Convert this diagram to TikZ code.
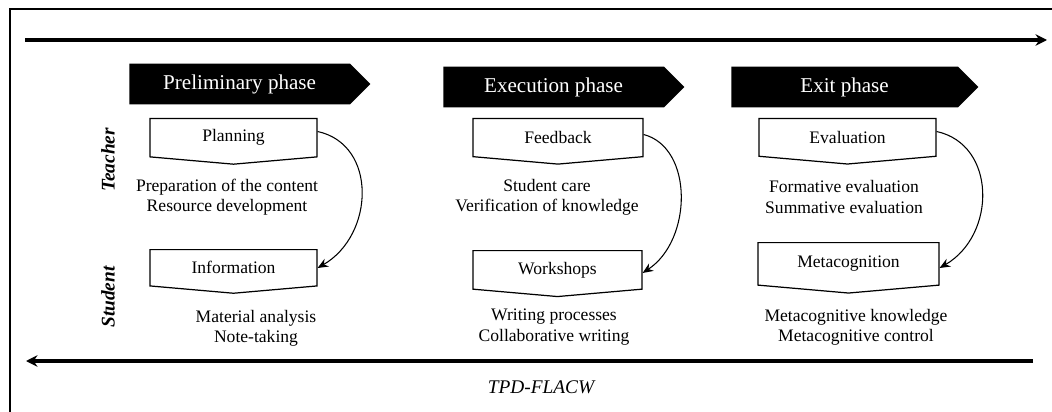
\documentclass[tikz,border=0pt]{standalone}
\usepackage{fontspec}
\setmainfont{Liberation Serif}
\usetikzlibrary{shapes.symbols,arrows.meta,positioning}

\tikzset{
  phase/.style={signal, signal to=east, fill=black, text=white, minimum width=4.82cm, minimum height=0.82cm, inner sep=0pt, anchor=west, font=\fontsize{12}{14}\selectfont},
  actbox/.style={signal, signal to=south, signal pointer angle=170, draw, line width=0.7pt, fill=white, minimum height=0.82cm, inner sep=0pt, anchor=north, font=\fontsize{10}{12}\selectfont},
  notes/.style={align=center, inner sep=0pt, font=\fontsize{10}{11.5}\selectfont},
  role/.style={rotate=90, font=\fontsize{11}{13}\selectfont\bfseries\itshape},
  timeline/.style={line width=2.2pt, -{Stealth[length=6.5pt,width=6.5pt]}},
  turnarrow/.style={line width=0.6pt, -{Stealth[length=6pt,width=5pt]}}
}

\begin{document}
\begin{tikzpicture}[x=0.02cm, y=0.02cm]
    \useasboundingbox (0,0) rectangle (1052,-412);
    \clip (0,0) rectangle (1052,-412);
    \draw[line width=0.7pt] (10,-9) rectangle (1070,-430);

    % time lines
    \coordinate (tl) at (25,-40);
    \coordinate (tr) at (1047,-40);
    \coordinate (bl) at (26,-361);
    \coordinate (br) at (1033,-361);
    \draw[timeline] (tl) -- (tr);
    \draw[timeline] (br) -- (bl);

    % phases
    \node [phase] (prelim) at (129,-84) {Preliminary phase};
    \node [phase] (exec) at (443,-87) {Execution phase};
    \node [phase, minimum width=4.94cm] (exit) at (731,-87) {Exit phase};

    % roles
    \node [role] (teacher) at (108,-160) {Teacher};
    \node [role] (student) at (108,-297) {Student};

    % teacher boxes
    \node [actbox, minimum width=3.34cm] (plan) at (233.5,-118) {Planning};
    \node [actbox, minimum width=3.40cm] (feed) at (558,-118) {Feedback};
    \node [actbox, minimum width=3.54cm] (eval) at (847.5,-118) {Evaluation};

    \node [notes] (plannotes) at (227,-197) {Preparation of the content\\Resource development};
    \node [notes] (feednotes) at (547,-197) {Student care\\Verification of knowledge};
    \node [notes] (evalnotes) at (844,-197) {Formative evaluation\\Summative evaluation};

    % student boxes
    \node [actbox, minimum width=3.34cm, minimum height=0.80cm] (info) at (233.5,-249) {Information};
    \node [actbox, minimum width=3.38cm, minimum height=0.84cm] (work) at (557.5,-250) {Workshops};
    \node [actbox, minimum width=3.62cm, minimum height=0.94cm] (meta) at (848.5,-242) {Metacognition};

    \node [notes] (infonotes) at (256,-328) {Material analysis\\Note-taking};
    \node [notes] (worknotes) at (554,-327) {Writing processes\\Collaborative writing};
    \node [notes] (metanotes) at (856,-327) {Metacognitive knowledge\\Metacognitive control};

    \node [font=\fontsize{11}{13}\selectfont\itshape] (model) at (541,-387) {TPD-FLACW};

    % teacher to student
    \draw[turnarrow] ([yshift=-0.27cm]plan.north east) .. controls +(60,-13) and +(57,33) .. ([yshift=-0.38cm]info.north east);
    \draw[turnarrow] ([yshift=-0.33cm]feed.north east) .. controls +(50,-13) and +(50,33) .. ([yshift=-0.46cm]work.north east);
    \draw[turnarrow] ([yshift=-0.27cm]eval.north east) .. controls +(60,-13) and +(57,33) .. ([yshift=-0.52cm]meta.north east);
\end{tikzpicture}
\end{document}
